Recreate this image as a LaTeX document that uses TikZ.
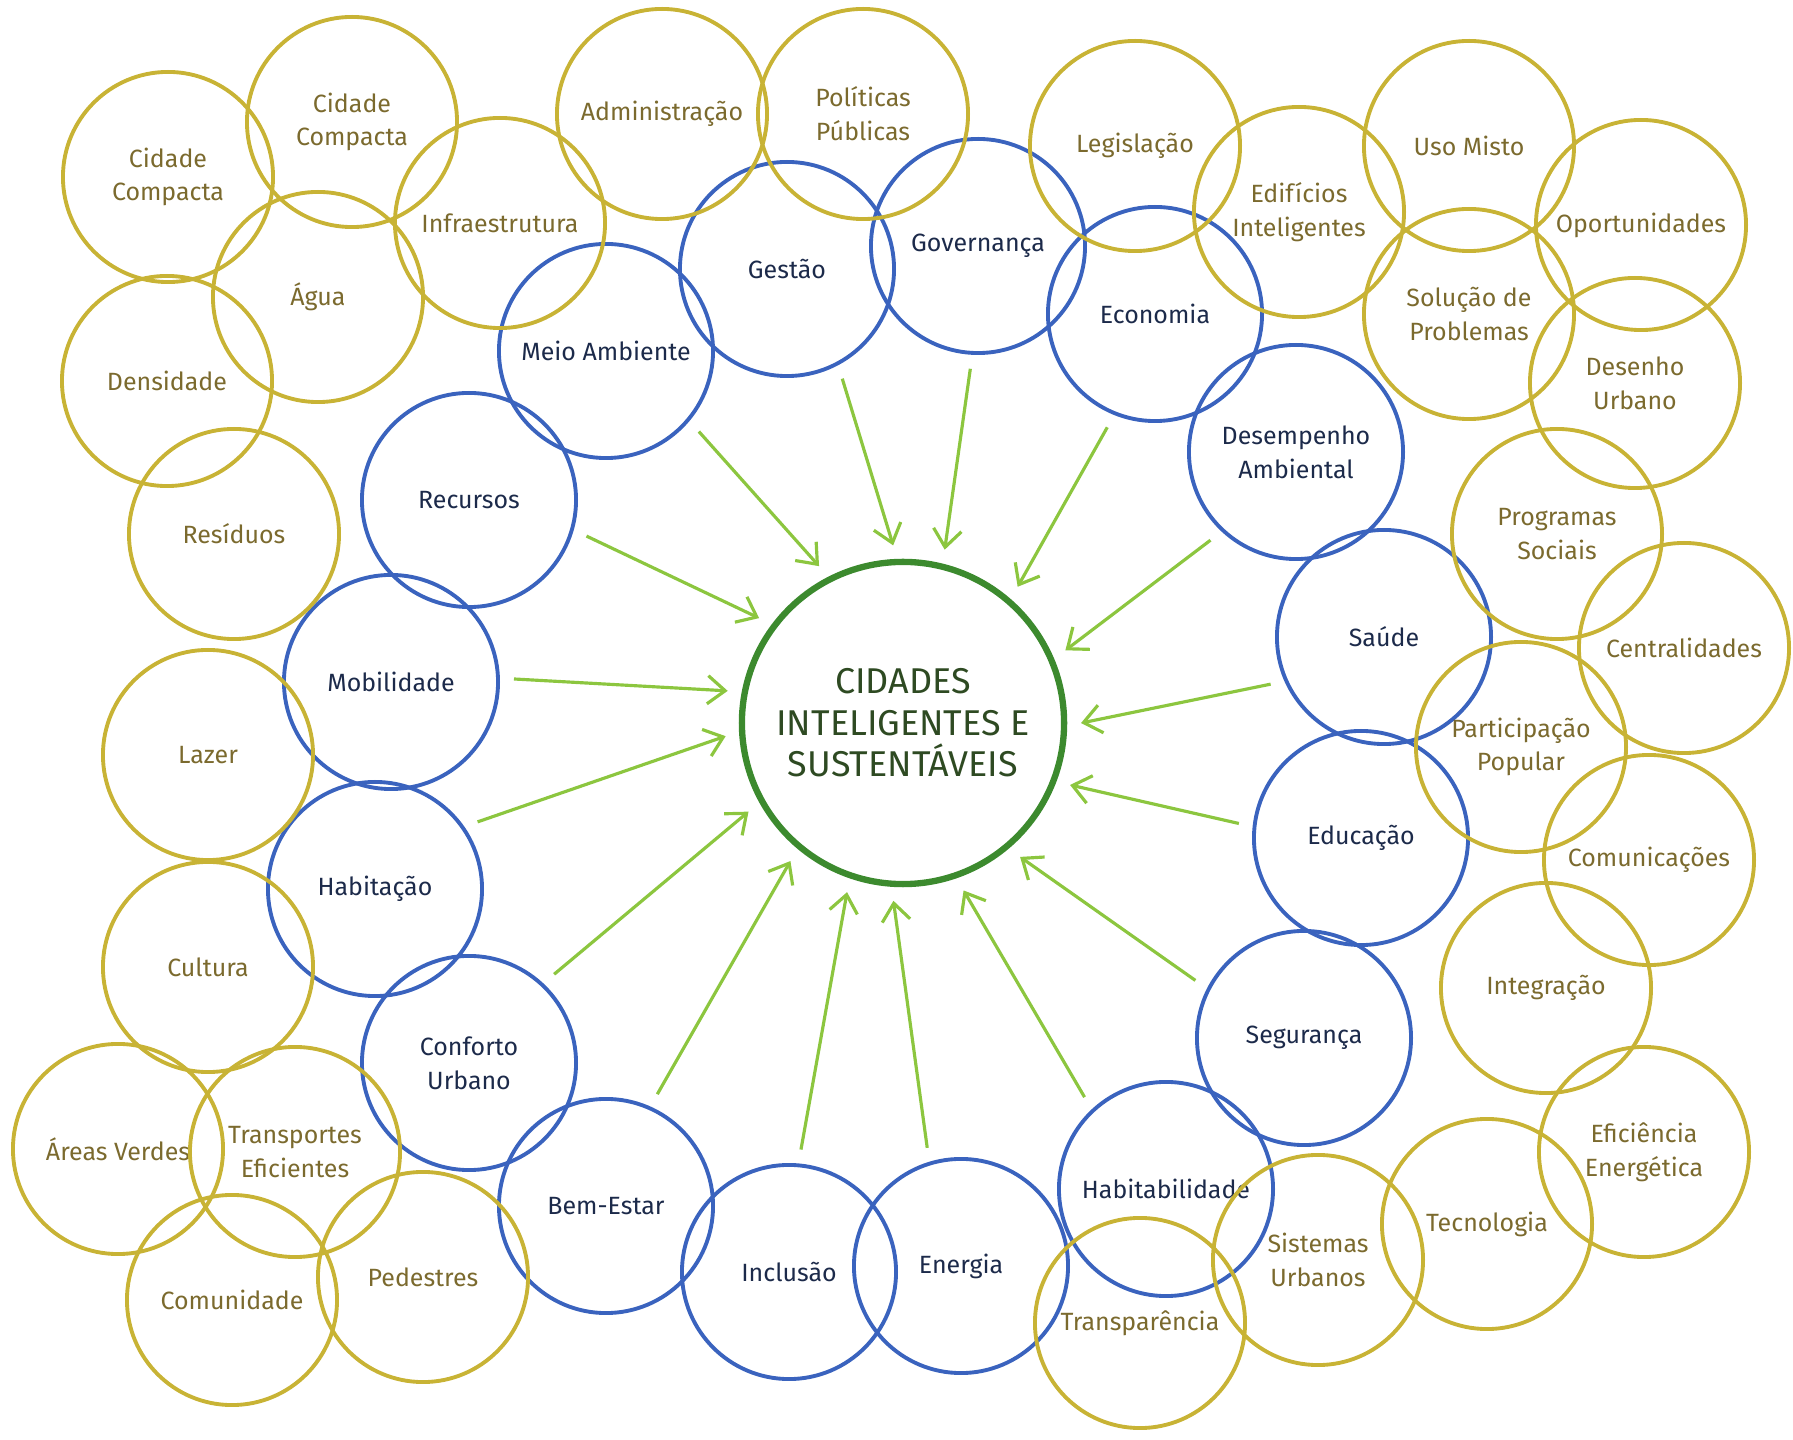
\documentclass[tikz,border=0pt]{standalone}
\usepackage{fontspec}
\setmainfont{Fira Sans}
\usetikzlibrary{arrows.meta}
\definecolor{ouro}{HTML}{C8B335}
\definecolor{ourotxt}{HTML}{7B6A2E}
\definecolor{azul}{HTML}{3A63BE}
\definecolor{azultxt}{HTML}{1C2A4A}
\definecolor{verde}{HTML}{3C8A2E}
\definecolor{verdetxt}{HTML}{2E4A22}
\definecolor{seta}{HTML}{8CC63F}

\begin{document}
\begin{tikzpicture}[x=0.01cm,y=-0.01cm,
    amarelo/.style={circle,draw=ouro,line width=1.1pt,minimum size=2.1cm,inner sep=0pt,
      text=ourotxt,align=center,font=\fontsize{7.1}{9.6}\selectfont},
    azulc/.style={circle,draw=azul,line width=1.1pt,minimum size=2.14cm,inner sep=0pt,
      text=azultxt,align=center,font=\fontsize{7.1}{9.6}\selectfont},
    centro/.style={circle,draw=verde,line width=1.8pt,minimum size=3.22cm,inner sep=0pt,
      text=verdetxt,align=center,font=\fontsize{10.2}{11.8}\selectfont},
    ligacao/.style={seta,line width=0.9pt,-{Straight Barb[length=5pt,width=8pt]},
      shorten <=4pt,shorten >=4pt}]
  \useasboundingbox (0,0) rectangle (1793,1440);
  % centre
  \node[centro] (cidades) at (903,723) {CIDADES\\INTELIGENTES E\\SUSTENTÁVEIS};
  % blue ring
  \node[azulc] (meio) at (606,351) {Meio Ambiente};
  \node[azulc] (gestao) at (787,269) {Gestão};
  \node[azulc] (governanca) at (978,246) {Governança};
  \node[azulc] (economia) at (1155,314) {Economia};
  \node[azulc] (desempenho) at (1296,452) {Desempenho\\Ambiental};
  \node[azulc] (saude) at (1384,637) {Saúde};
  \node[azulc] (educacao) at (1361,838) {Educação};
  \node[azulc] (seguranca) at (1304,1038) {Segurança};
  \node[azulc] (habitabilidade) at (1166,1189) {Habitabilidade};
  \node[azulc] (energia) at (961,1266) {Energia};
  \node[azulc] (inclusao) at (789,1272) {Inclusão};
  \node[azulc] (bemestar) at (606,1206) {Bem-Estar};
  \node[azulc] (conforto) at (469,1063) {Conforto\\Urbano};
  \node[azulc] (habitacao) at (375,889) {Habitação};
  \node[azulc] (mobilidade) at (391,682) {Mobilidade};
  \node[azulc] (recursos) at (469,500) {Recursos};
  % yellow ring
  \node[amarelo] (compactaA) at (168,177) {Cidade\\Compacta};
  \node[amarelo] (compactaB) at (352,122) {Cidade\\Compacta};
  \node[amarelo] (infra) at (500,223) {Infraestrutura};
  \node[amarelo] (agua) at (318,297) {Água};
  \node[amarelo] (densidade) at (167,381) {Densidade};
  \node[amarelo] (residuos) at (234,534) {Resíduos};
  \node[amarelo] (lazer) at (208,755) {Lazer};
  \node[amarelo] (cultura) at (208,967) {Cultura};
  \node[amarelo] (verdes) at (118,1149) {Áreas Verdes};
  \node[amarelo] (transportes) at (295,1152) {Transportes\\Eficientes};
  \node[amarelo] (comunidade) at (232,1300) {Comunidade};
  \node[amarelo] (pedestres) at (423,1277) {Pedestres};
  \node[amarelo] (admin) at (662,114) {Administração};
  \node[amarelo] (politicas) at (863,114) {Políticas\\Públicas};
  \node[amarelo] (legislacao) at (1135,146) {Legislação};
  \node[amarelo] (edificios) at (1299,212) {Edifícios\\Inteligentes};
  \node[amarelo] (usomisto) at (1469,146) {Uso Misto};
  \node[amarelo] (oportunidades) at (1641,225) {Oportunidades};
  \node[amarelo] (solucao) at (1469,314) {Solução de\\Problemas};
  \node[amarelo] (desenho) at (1635,383) {Desenho\\Urbano};
  \node[amarelo] (programas) at (1557,534) {Programas\\Sociais};
  \node[amarelo] (centralidades) at (1684,648) {Centralidades};
  \node[amarelo] (participacao) at (1521,747) {Participação\\Popular};
  \node[amarelo] (comunicacoes) at (1649,860) {Comunicações};
  \node[amarelo] (integracao) at (1546,988) {Integração};
  \node[amarelo] (eficiencia) at (1644,1152) {Eficiência\\Energética};
  \node[amarelo] (tecnologia) at (1487,1224) {Tecnologia};
  \node[amarelo] (sistemas) at (1318,1260) {Sistemas\\Urbanos};
  \node[amarelo] (transparencia) at (1140,1323) {Transparência};
  % arrows into the centre
  \draw[ligacao] (meio.-40) -- (cidades.117);
  \draw[ligacao] (gestao.-62) -- (cidades.92);
  \draw[ligacao] (governanca.-93) -- (cidades.76);
  \draw[ligacao] (economia.-112) -- (cidades.49);
  \draw[ligacao] (desempenho.-133) -- (cidades.23);
  \draw[ligacao] (saude.-156) -- (cidades.-1);
  \draw[ligacao] (educacao.174) -- (cidades.-21);
  \draw[ligacao] (seguranca.153) -- (cidades.-50);
  \draw[ligacao] (habitabilidade.133) -- (cidades.-71);
  \draw[ligacao] (energia.107) -- (cidades.-94);
  \draw[ligacao] (inclusao.85) -- (cidades.-109);
  \draw[ligacao] (bemestar.66) -- (cidades.-130);
  \draw[ligacao] (conforto.47) -- (cidades.-151);
  \draw[ligacao] (habitacao.35) -- (cidades.183);
  \draw[ligacao] (mobilidade.2) -- (cidades.169);
  \draw[ligacao] (recursos.-16) -- (cidades.143);
\end{tikzpicture}
\end{document}
